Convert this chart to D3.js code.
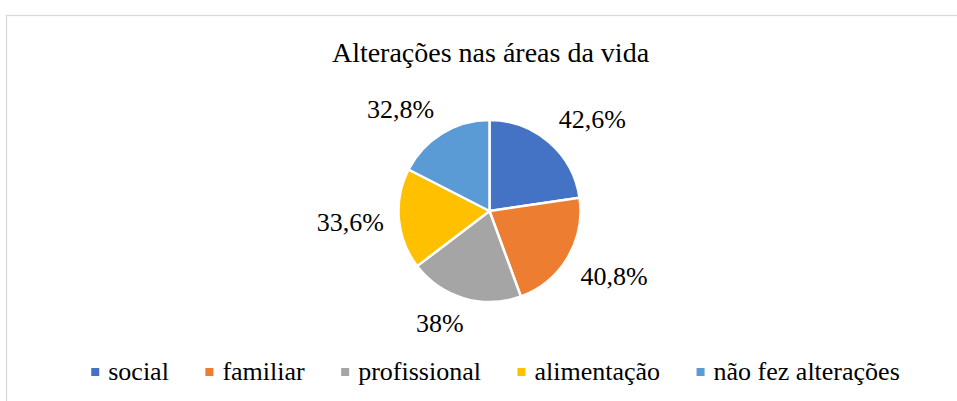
<!DOCTYPE html>
<html>
<head>
<meta charset="utf-8">
<script src="https://cdn.jsdelivr.net/npm/d3@7"></script>
<style>
  body { margin: 0; background: #fff; }
  svg { display: block; }
</style>
</head>
<body>
<svg id="chart" width="957" height="401"></svg>
<script>
// data
let categories = ["social", "familiar", "profissional", "alimentação", "não fez alterações"],
    values = [42.6, 40.8, 38, 33.6, 32.8],
    labels = ["42,6%", "40,8%", "38%", "33,6%", "32,8%"],
    colors = ["#4472C4", "#ED7D31", "#A5A5A5", "#FFC000", "#5B9BD5"];

let title = "Alterações nas áreas da vida";

let width = 957,
    height = 401,
    center = {x: 489.5, y: 211},
    radius = 91,
    serif = "'Liberation Serif', 'Times New Roman', serif";

let svg = d3.select("#chart");

// outer frame (only top and left edges are visible)
svg.append("rect")
  .attr("x", 6.5)
  .attr("y", 15.5)
  .attr("width", 1200)
  .attr("height", 800)
  .attr("fill", "none")
  .attr("stroke", "#d9d9d9")
  .attr("stroke-width", 1.3);

svg.append("text")
  .attr("x", 490.5)
  .attr("y", 62)
  .attr("text-anchor", "middle")
  .attr("font-family", serif)
  .attr("font-size", 28)
  .text(title);

let pie = d3.pie().sort(null).value(d => d.value),
    arc = d3.arc().innerRadius(0).outerRadius(radius);

let slices = pie(categories.map((c, i) => ({cat: c, value: values[i], label: labels[i], color: colors[i]})));

let g = svg.append("g")
  .attr("transform", `translate(${center.x},${center.y})`);

g.selectAll("path")
  .data(slices).enter()
  .append("path")
  .attr("d", arc)
  .attr("fill", d => d.data.color)
  .attr("stroke", "#fff")
  .attr("stroke-width", 2.5)
  .attr("stroke-linejoin", "round");

// labels outside end: the mid-angle ray touches the nearest corner/edge of the label box
let labelFont = 26,
    labelR = 106,
    k = 2,
    clamp = v => Math.max(-1, Math.min(1, v));

g.selectAll("text.lbl")
  .data(slices).enter()
  .append("text")
  .attr("class", "lbl")
  .attr("font-family", serif)
  .attr("font-size", labelFont)
  .attr("text-anchor", "middle")
  .text(d => d.data.label)
  .each(function(d) {
    let a = (d.startAngle + d.endAngle) / 2,
        w = this.getComputedTextLength(),
        h = 22,
        px = Math.sin(a) * labelR,
        py = -Math.cos(a) * labelR,
        cx = px + w / 2 * clamp(Math.sin(a) * 3),
        cy = py - h / 2 * clamp(Math.cos(a) * k);
    d3.select(this)
      .attr("x", cx)
      .attr("y", cy + 8.5);
  });

// legend
let legendFont = 26,
    box = 8,
    boxGap = 17,
    itemGap = 36.5;

let legend = svg.append("g");
let items = legend.selectAll("g")
  .data(categories).enter()
  .append("g");

items.append("rect")
  .attr("width", box)
  .attr("height", box)
  .attr("y", 368)
  .attr("fill", (d, i) => colors[i]);

items.append("text")
  .attr("y", 380)
  .attr("font-family", serif)
  .attr("font-size", legendFont)
  .text(d => d);

let xPos = 0, starts = [];
items.each(function() {
  starts.push(xPos);
  let w = d3.select(this).select("text").node().getComputedTextLength();
  xPos += boxGap + w + itemGap;
});
let total = xPos - itemGap,
    x0 = 495.5 - total / 2;

items.each(function(d, i) {
  let it = d3.select(this);
  it.select("rect").attr("x", x0 + starts[i]);
  it.select("text").attr("x", x0 + starts[i] + boxGap);
});
</script>
</body>
</html>
